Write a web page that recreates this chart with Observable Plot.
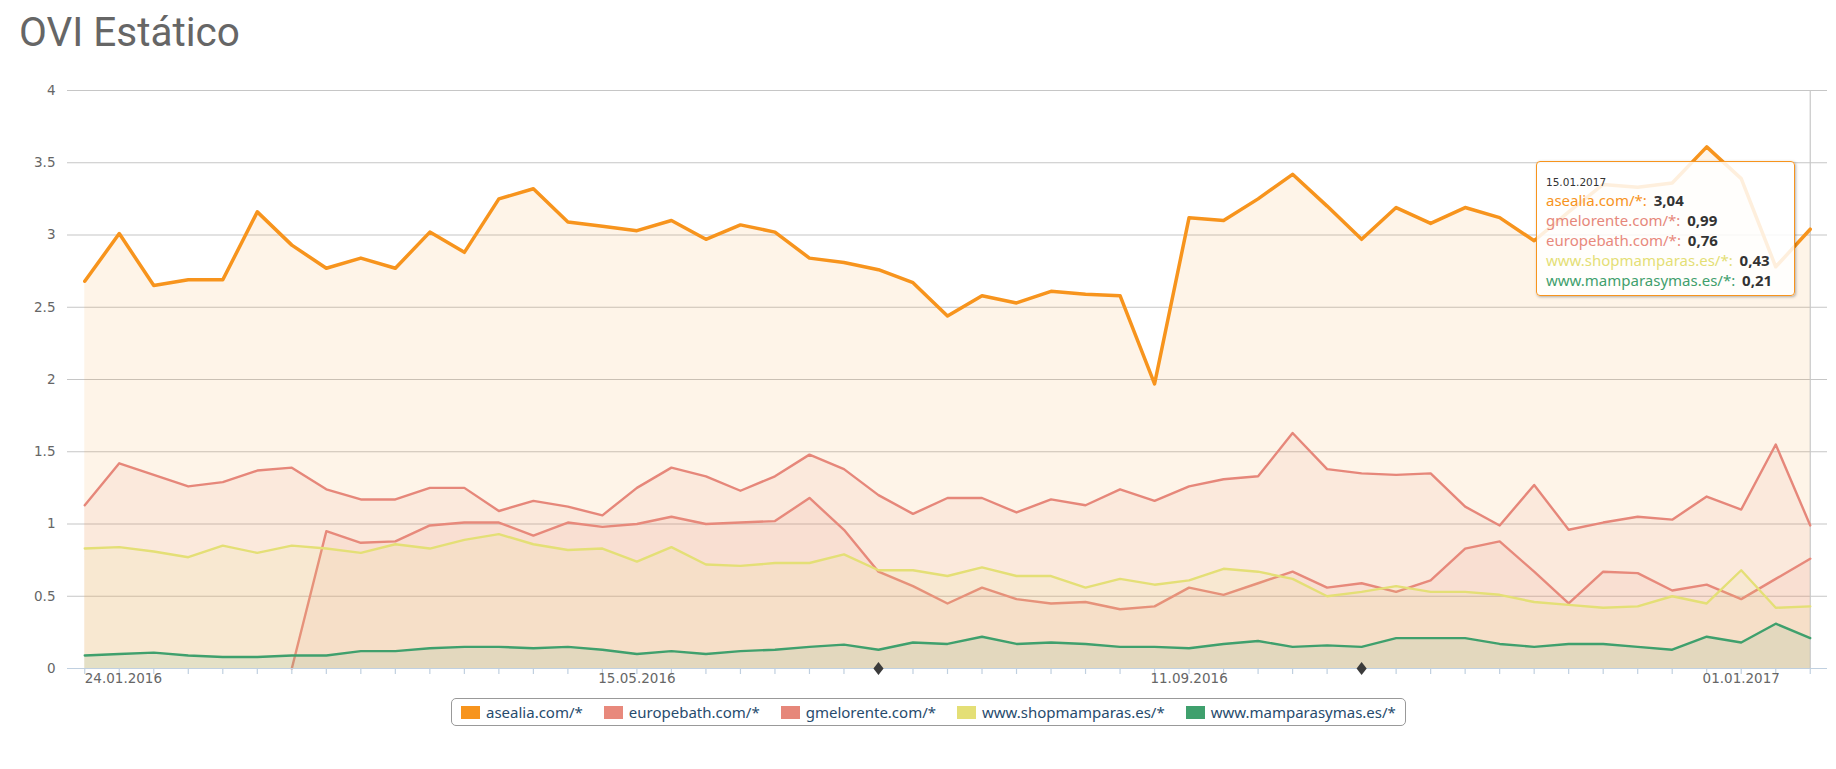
<!DOCTYPE html>
<html>
<head>
<meta charset="utf-8">
<script src="https://cdn.jsdelivr.net/npm/d3@7"></script>
<script src="https://cdn.jsdelivr.net/npm/@observablehq/plot@0.6"></script>
<style>
  body { margin: 0; background: #fff; width: 1836px; height: 769px; position: relative; overflow: hidden; font-family: "DejaVu Sans", sans-serif; }
  #title { position: absolute; left: 19px; top: 12px; font-family: Roboto, sans-serif; font-size: 40.5px; line-height: 40px; color: #666; white-space: nowrap; }
  #chart { position: absolute; left: 0; top: 56px; }
  #legend { position: absolute; left: 451px; top: 698px; height: 28px; box-sizing: border-box; border: 1px solid #999; border-radius: 5px; display: flex; align-items: center; padding: 0 9px; gap: 21px; font-family: "Noto Sans", sans-serif; font-size: 15px; color: #274b6d; white-space: nowrap; }
  .item { display: flex; align-items: center; gap: 6px; }
  .sw { width: 19px; height: 13px; display: inline-block; }
  #tooltip { position: absolute; left: 1536px; top: 161px; width: 259px; height: 135px; box-sizing: border-box; border: 1px solid #F7941D; border-radius: 4px; background: rgba(255,255,255,0.85); box-shadow: 1px 1px 3px rgba(0,0,0,0.3); padding: 13px 0 0 9px; font-family: "Noto Sans", sans-serif; }
  .hd { font-family: "DejaVu Sans", sans-serif; font-size: 10.5px; line-height: 14px; height: 14px; color: #333; margin-bottom: 2px; }
  .tl { font-size: 15px; line-height: 19.9px; white-space: nowrap; }
  .tl b { color: #333; margin-left: 3px; }
</style>
</head>
<body>
<div id="title">OVI Estático</div>
<div id="chart"></div>
<div id="legend"></div>
<div id="tooltip"></div>
<script>
// ---- data ----
const dates = ["24.01.2016","31.01.2016","07.02.2016","14.02.2016","21.02.2016","28.02.2016","06.03.2016","13.03.2016","20.03.2016","27.03.2016",
  "03.04.2016","10.04.2016","17.04.2016","24.04.2016","01.05.2016","08.05.2016","15.05.2016","22.05.2016","29.05.2016","05.06.2016",
  "12.06.2016","19.06.2016","26.06.2016","03.07.2016","10.07.2016","17.07.2016","24.07.2016","31.07.2016","07.08.2016","21.08.2016",
  "28.08.2016","04.09.2016","11.09.2016","18.09.2016","25.09.2016","02.10.2016","09.10.2016","16.10.2016","23.10.2016","30.10.2016",
  "06.11.2016","13.11.2016","20.11.2016","27.11.2016","04.12.2016","11.12.2016","18.12.2016","25.12.2016","01.01.2017","08.01.2017",
  "15.01.2017"];

const asealia = [2.68,3.01,2.65,2.69,2.69,3.16,2.93,2.77,2.84,2.77, 3.02,2.88,3.25,3.32,3.09,3.06,3.03,3.10,2.97,3.07,
  3.02,2.84,2.81,2.76,2.67,2.44,2.58,2.53,2.61,2.59, 2.58,1.97,3.12,3.10,3.25,3.42,3.20,2.97,3.19,3.08,
  3.19,3.12,2.96,3.16,3.35,3.33,3.36,3.61,3.39,2.78, 3.04];
const europebath = [null,null,null,null,null,null,0,0.95,0.87,0.88, 0.99,1.01,1.01,0.92,1.01,0.98,1.00,1.05,1.00,1.01,
  1.02,1.18,0.96,0.67,0.57,0.45,0.56,0.48,0.45,0.46, 0.41,0.43,0.56,0.51,0.59,0.67,0.56,0.59,0.53,0.61,
  0.83,0.88,0.67,0.45,0.67,0.66,0.54,0.58,0.48,0.62, 0.76];
const gmelorente = [1.13,1.42,1.34,1.26,1.29,1.37,1.39,1.24,1.17,1.17, 1.25,1.25,1.09,1.16,1.12,1.06,1.25,1.39,1.33,1.23,
  1.33,1.48,1.38,1.20,1.07,1.18,1.18,1.08,1.17,1.13, 1.24,1.16,1.26,1.31,1.33,1.63,1.38,1.35,1.34,1.35,
  1.12,0.99,1.27,0.96,1.01,1.05,1.03,1.19,1.10,1.55, 0.99];
const shopmamparas = [0.83,0.84,0.81,0.77,0.85,0.80,0.85,0.83,0.80,0.86, 0.83,0.89,0.93,0.86,0.82,0.83,0.74,0.84,0.72,0.71,
  0.73,0.73,0.79,0.68,0.68,0.64,0.70,0.64,0.64,0.56, 0.62,0.58,0.61,0.69,0.67,0.62,0.50,0.53,0.57,0.53,
  0.53,0.51,0.46,0.44,0.42,0.43,0.50,0.45,0.68,0.42, 0.43];
const mamparasymas = [0.09,0.10,0.11,0.09,0.08,0.08,0.09,0.09,0.12,0.12, 0.14,0.15,0.15,0.14,0.15,0.13,0.10,0.12,0.10,0.12,
  0.13,0.15,0.165,0.13,0.18,0.17,0.22,0.17,0.18,0.17, 0.15,0.15,0.14,0.17,0.19,0.15,0.16,0.15,0.21,0.21,
  0.21,0.17,0.15,0.17,0.17,0.15,0.13,0.22,0.18,0.31, 0.21];

const seriesNames = ["asealia.com/*", "europebath.com/*", "gmelorente.com/*", "www.shopmamparas.es/*", "www.mamparasymas.es/*"];
const seriesColors = ["#F7941D", "#E8897C", "#E6877A", "#E4DF76", "#3FA06D"];
const seriesValues = [asealia, europebath, gmelorente, shopmamparas, mamparasymas];
const seriesWidths = [3.5, 2.4, 2.4, 2.4, 2.4];

const yTicks = [0, 0.5, 1, 1.5, 2, 2.5, 3, 3.5, 4];
const gridTicks = [0.5, 1, 1.5, 2, 2.5, 3, 3.5, 4];
const xLabelDates = ["24.01.2016", "15.05.2016", "11.09.2016", "01.01.2017"];
const flagDates = ["03.07.2016", "16.10.2016"];
const tooltipDate = "15.01.2017";

// ---- chart ----
const tallDiamond = {
  draw(ctx, size) {
    const h = Math.sqrt(size);
    ctx.moveTo(0, -h * 0.6);
    ctx.lineTo(h * 0.46, 0);
    ctx.lineTo(0, h * 0.6);
    ctx.lineTo(-h * 0.46, 0);
    ctx.closePath();
  }
};

const marks = [
  Plot.ruleY(gridTicks, {stroke: "#C6C6C6", strokeWidth: 1.2}),
  Plot.ruleX([dates[dates.length - 1]], {y1: 0, y2: 4, stroke: "#C8C8C8", strokeWidth: 1.2})
];
seriesValues.forEach((vals, k) => {
  marks.push(Plot.areaY(dates, {x: d => d, y1: 0, y2: (d, i) => vals[i], fill: seriesColors[k], fillOpacity: 0.1}));
  marks.push(Plot.lineY(dates, {x: d => d, y: (d, i) => vals[i], stroke: seriesColors[k], strokeWidth: seriesWidths[k]}));
});
marks.push(
  Plot.ruleY([0], {stroke: "#C0D0E0", strokeWidth: 1.2}),
  Plot.axisX({ticks: dates, tickSize: 6, tickFormat: () => "", stroke: "#C0D0E0", strokeWidth: 1.2, label: null}),
  Plot.text(xLabelDates.slice(1), {x: d => d, y: 0, dy: 5, lineAnchor: "top", textAnchor: "middle", fontSize: 13.5, fill: "#666"}),
  Plot.text(xLabelDates.slice(0, 1), {x: d => d, y: 0, dy: 5, lineAnchor: "top", textAnchor: "start", fontSize: 13.5, fill: "#666"}),
  Plot.axisY({ticks: yTicks, tickSize: 0, tickPadding: 12, tickFormat: d => String(d), fontSize: 13.5, fill: "#666", label: null}),
  Plot.dot(flagDates, {x: d => d, y: 0, r: 6.2, symbol: tallDiamond, fill: "#3b3b3b", stroke: "none"})
);

const chart = Plot.plot({
  width: 1836,
  height: 642,
  marginLeft: 67,
  marginRight: 9,
  marginTop: 34,
  marginBottom: 30,
  x: {type: "point", domain: dates, padding: 0.5, round: false},
  y: {domain: [0, 4]},
  style: {fontFamily: "DejaVu Sans", fontSize: "13.5px", color: "#666", background: "transparent", overflow: "visible"},
  marks
});
document.getElementById("chart").appendChild(chart);

// ---- legend ----
const legend = document.getElementById("legend");
seriesNames.forEach((name, k) => {
  const it = document.createElement("div");
  it.className = "item";
  it.innerHTML = `<span class="sw" style="background:${seriesColors[k]}"></span><span>${name}</span>`;
  legend.appendChild(it);
});

// ---- tooltip ----
const last = dates.length - 1;
const order = seriesNames.map((n, k) => k).sort((a, b) => seriesValues[b][last] - seriesValues[a][last]);
const tip = document.getElementById("tooltip");
tip.innerHTML = `<div class="hd">${tooltipDate}</div>` + order.map(k =>
  `<div class="tl"><span style="color:${seriesColors[k]}">${seriesNames[k]}:</span> <b>${seriesValues[k][last].toFixed(2).replace(".", ",")}</b></div>`
).join("");
</script>
</body>
</html>
